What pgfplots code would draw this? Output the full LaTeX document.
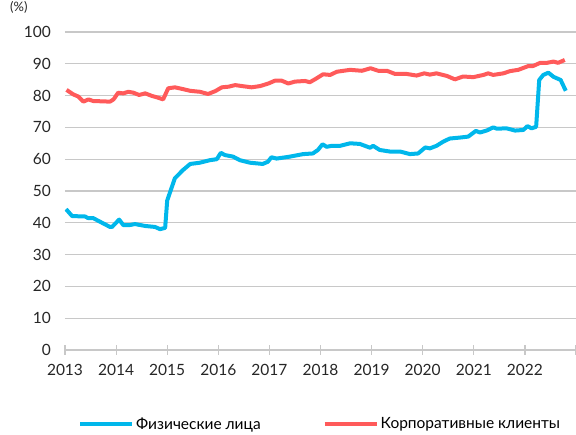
\documentclass[border=0pt]{standalone}
\usepackage{fontspec}
\setmainfont{Lato}
\usepackage{pgfplots}
\pgfplotsset{compat=1.18}
\definecolor{cblue}{RGB}{0,183,235}
\definecolor{cred}{RGB}{255,90,90}
\definecolor{gridc}{RGB}{200,200,200}
\begin{document}
\fontsize{15}{18}\selectfont
\begin{tikzpicture}
\begin{axis}[
  at={(65pt,85pt)}, anchor=south west,
  scale only axis, width=511pt, height=318pt,
  xmin=2013, xmax=2023, ymin=0, ymax=100,
  axis x line*=bottom, axis y line*=left,
  x axis line style={draw=gridc, line width=1.2pt, -},
  y axis line style={draw=none},
  ytick={0,10,...,100},
  ymajorgrids, grid style={gridc, line width=1.2pt},
  ytick style={draw=none},
  xtick={2013,2014,2015,2016,2017,2018,2019,2020,2021,2022,2023},
  xticklabels={2013,2014,2015,2016,2017,2018,2019,2020,2021,2022,{}},
  xtick style={draw=gridc, line width=1.2pt},
  major tick length=10pt, tick align=center,
  /pgf/number format/assume math mode=true,
  /pgf/number format/1000 sep={},
  tick label style={font=\fontsize{15.5}{18}\selectfont, text=black!85},
  yticklabel style={xshift=-4pt},
  xticklabel style={yshift=-4pt},
  legend style={at={(0.0254,-0.234)}, anchor=west, draw=none, fill=none,
    inner sep=0pt, font=\fontsize{15.5}{18}\selectfont,
    /tikz/every even column/.append style={column sep=60pt}},
  legend columns=2,
  legend image code/.code={\draw[#1, line width=4pt] (0pt,0pt) -- (52pt,0pt);},
]
\addplot[cblue, line width=4pt, line join=round] coordinates {
(2013.02,44.3) (2013.14,42.1) (2013.39,42.0) (2013.45,41.5) (2013.55,41.5)
(2013.63,40.8) (2013.88,38.7) (2013.92,38.7) (2014.06,41.0) (2014.14,39.3)
(2014.27,39.3) (2014.37,39.6) (2014.57,39.0) (2014.76,38.7) (2014.86,38.0)
(2014.96,38.4) (2015.00,47.0) (2015.15,54.0) (2015.31,56.6) (2015.45,58.5)
(2015.64,58.9) (2015.84,59.7) (2015.97,60.0) (2016.05,62.0) (2016.13,61.3)
(2016.29,60.8) (2016.42,59.7) (2016.62,58.9) (2016.87,58.5) (2016.97,59.2)
(2017.04,60.6) (2017.14,60.2) (2017.40,60.8) (2017.66,61.6) (2017.85,61.8)
(2017.95,62.9) (2018.04,64.7) (2018.12,63.9) (2018.22,64.2) (2018.38,64.2)
(2018.58,65.0) (2018.77,64.8) (2018.97,63.6) (2019.03,64.2) (2019.16,62.9)
(2019.36,62.4) (2019.56,62.4) (2019.75,61.6) (2019.91,61.8) (2020.05,63.7)
(2020.14,63.4) (2020.27,64.2) (2020.40,65.5) (2020.53,66.5) (2020.73,66.8)
(2020.89,67.1) (2021.04,68.9) (2021.12,68.4) (2021.25,69.0) (2021.38,70.0)
(2021.45,69.6) (2021.64,69.7) (2021.81,69.0) (2021.97,69.2) (2022.05,70.4)
(2022.13,69.7) (2022.22,70.2) (2022.28,84.9) (2022.36,86.5) (2022.46,87.2)
(2022.56,85.9) (2022.70,84.9) (2022.80,81.5)
};
\addlegendentry{Физические лица}
\addplot[cred, line width=4pt, line join=round] coordinates {
(2013.03,81.8) (2013.16,80.4) (2013.26,79.7) (2013.36,78.1) (2013.46,78.8)
(2013.55,78.3) (2013.88,78.1) (2013.95,78.8) (2014.04,80.9) (2014.14,80.7)
(2014.24,81.2) (2014.34,80.9) (2014.45,80.2) (2014.57,80.7) (2014.70,79.9)
(2014.83,79.3) (2014.92,78.8) (2015.02,82.3) (2015.15,82.6) (2015.32,82.0)
(2015.45,81.5) (2015.64,81.2) (2015.80,80.5) (2015.94,81.4) (2016.07,82.6)
(2016.20,82.8) (2016.33,83.3) (2016.46,83.0) (2016.65,82.6) (2016.82,83.0)
(2016.98,83.8) (2017.11,84.7) (2017.24,84.7) (2017.37,83.8) (2017.50,84.4)
(2017.70,84.6) (2017.79,84.2) (2017.89,85.1) (2018.05,86.7) (2018.19,86.5)
(2018.32,87.5) (2018.58,88.1) (2018.81,87.8) (2018.98,88.6) (2019.13,87.8)
(2019.30,87.8) (2019.46,86.8) (2019.69,86.8) (2019.88,86.3) (2020.03,87.0)
(2020.14,86.6) (2020.27,87.0) (2020.47,86.2) (2020.63,85.1) (2020.79,86.0)
(2020.99,85.8) (2021.19,86.5) (2021.28,87.0) (2021.38,86.5) (2021.58,87.0)
(2021.71,87.7) (2021.87,88.1) (2022.07,89.3) (2022.16,89.3) (2022.30,90.3)
(2022.43,90.3) (2022.56,90.7) (2022.65,90.3) (2022.78,91.2)
};
\addlegendentry{Корпоративные клиенты}
\end{axis}
\node[anchor=north west, text=black!85, inner sep=0pt, font=\fontsize{13}{15}\selectfont] at (10pt,434pt) {(\%)};
\pgfresetboundingbox
\path[use as bounding box] (0pt,0pt) rectangle (576pt,435pt);
\end{tikzpicture}
\end{document}
